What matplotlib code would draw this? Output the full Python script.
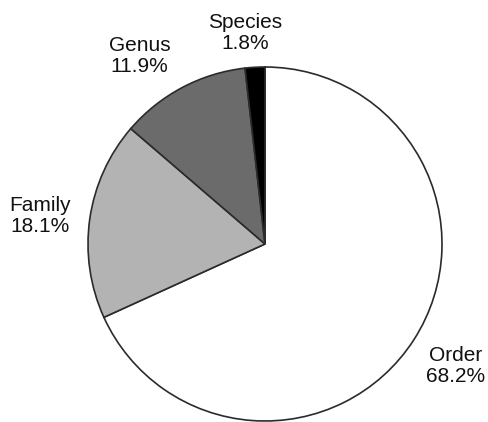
import matplotlib

matplotlib.use("Agg")
import matplotlib.pyplot as plt

ranks = ["Order", "Family", "Genus", "Species"]
shares = [68.2, 18.1, 11.9, 1.8]
colors = ["#ffffff", "#b3b3b3", "#6b6b6b", "#000000"]

# label anchor points, in units of the pie radius
label_xy = [(1.075, -0.69), (-1.27, 0.16), (-0.71, 1.06), (-0.113, 1.19)]

plt.rcParams["font.family"] = ["Liberation Sans", "DejaVu Sans"]

fig = plt.figure(figsize=(4.89, 4.22), dpi=100)
ax = fig.add_axes([0, 0, 1, 1])
ax.pie(
    shares,
    colors=colors,
    startangle=90,
    counterclock=False,
    radius=1.0,
    wedgeprops={"edgecolor": "#2b2b2b", "linewidth": 1.2},
)
for name, value, (x, y) in zip(ranks, shares, label_xy):
    ax.text(x, y, f"{name}\n{value:.1f}%", ha="center", va="center",
            fontsize=15, linespacing=1.12, color="#111111")

r_px = 177.0
cx, cy = 265.0, 244.0
ax.set_xlim(-cx / r_px, (489 - cx) / r_px)
ax.set_ylim(-(422 - cy) / r_px, cy / r_px)
ax.set_aspect("equal")
ax.axis("off")
fig.savefig("out.png", dpi=100)
plt.close(fig)
